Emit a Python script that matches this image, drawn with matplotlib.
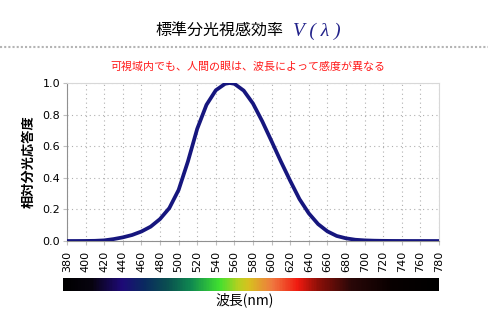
import numpy as np
import matplotlib
matplotlib.use('Agg')
import matplotlib.pyplot as plt
from matplotlib.colors import LinearSegmentedColormap
from matplotlib.lines import Line2D

plt.rcParams['font.family'] = ['Noto Sans CJK JP', 'DejaVu Sans']

# relative luminous efficiency V(lambda)
wavelength = [380, 390, 400, 410, 420, 430, 440, 450, 460, 470, 480, 490, 500,
              510, 520, 530, 540, 550, 555, 560, 570, 580, 590, 600, 610, 620,
              630, 640, 650, 660, 670, 680, 690, 700, 710, 720, 730, 740, 750,
              760, 770, 780]
v_lambda = [0.0000, 0.0001, 0.0004, 0.0012, 0.004, 0.012, 0.023, 0.038, 0.060,
            0.091, 0.139, 0.208, 0.323, 0.503, 0.710, 0.862, 0.954, 0.995, 1.0,
            0.995, 0.952, 0.870, 0.757, 0.631, 0.503, 0.381, 0.265, 0.175,
            0.107, 0.061, 0.032, 0.017, 0.008, 0.004, 0.002, 0.001, 0.0005,
            0.0003, 0.0001, 0.0001, 0.0000, 0.0000]

x_ticks = list(range(380, 781, 20))
y_ticks = [0.0, 0.2, 0.4, 0.6, 0.8, 1.0]

# colour bar under the axis
spectrum_nm = [380, 410, 442, 466, 491, 516, 546, 567, 578, 603, 630, 651, 687, 731, 780]
spectrum_colors = ['#000000', '#080410', '#1e0a78', '#0a2a60', '#0a5050', '#108a50',
                   '#40e030', '#b8d020', '#d8c020', '#f07840', '#f01a10', '#901008',
                   '#2a0808', '#080000', '#000000']

title_text = '標準分光視感効率'
subtitle_text = '可視域内でも、人間の眼は、波長によって感度が異なる'
ylabel_text = '相対分光応答度'
xlabel_text = '波長(nm)'

W, H = 489, 323
fig = plt.figure(figsize=(W / 100, H / 100), dpi=100)

ax = fig.add_axes([67 / W, (H - 241) / H, 372 / W, 158 / H])
ax.plot(wavelength, v_lambda, color='#16167e', lw=2.7, solid_capstyle='round', zorder=3)
ax.set_xlim(380, 780)
ax.set_ylim(0, 1.0)
ax.set_xticks(x_ticks)
ax.set_yticks(y_ticks)
ax.set_xticklabels([str(t) for t in x_ticks], rotation=90, fontsize=8, family='DejaVu Sans')
ax.set_yticklabels(['%.1f' % t for t in y_ticks], fontsize=8, family='DejaVu Sans')
ax.grid(True, linestyle=(0, (1, 3)), color='#b0b0b0', lw=0.8)
ax.tick_params(axis='both', length=3, color='#c0c0c0', pad=2)
ax.tick_params(axis='x', pad=4)
for side in ['top', 'right']:
    ax.spines[side].set_color('#d8d8d8')
for side in ['left', 'bottom']:
    ax.spines[side].set_color('#909090')
ax.set_ylabel(ylabel_text, fontsize=9.5, fontweight='bold', labelpad=5)

# spectrum strip
sax = fig.add_axes([63 / W, (H - 291) / H, 376 / W, 13 / H])
pos = [(n - 380) / 400 for n in spectrum_nm]
cmap = LinearSegmentedColormap.from_list('spec', list(zip(pos, spectrum_colors)))
sax.imshow(np.linspace(0, 1, 400)[None, :], aspect='auto', cmap=cmap,
           extent=[380, 780, 0, 1])
sax.set_axis_off()

fig.text(245 / W, 1 - 300 / H, xlabel_text, ha='center', va='center', fontsize=10)

# header
fig.text(283 / W, 1 - 30 / H, title_text, ha='right', va='center', fontsize=11.5)
fig.text(293 / W, 1 - 31 / H, 'V ( λ )', ha='left', va='center', fontsize=14,
         color='#22228a', family='Liberation Serif', style='italic')
fig.add_artist(Line2D([0, 1], [1 - 47 / H] * 2, transform=fig.transFigure,
                      color='#b4b4b4', lw=1.5, linestyle=(0, (1, 1))))
fig.text(248 / W, 1 - 67 / H, subtitle_text, ha='center', va='center', fontsize=7.9,
         color='#ff1a1a')

fig.savefig('out.png', dpi=100)
